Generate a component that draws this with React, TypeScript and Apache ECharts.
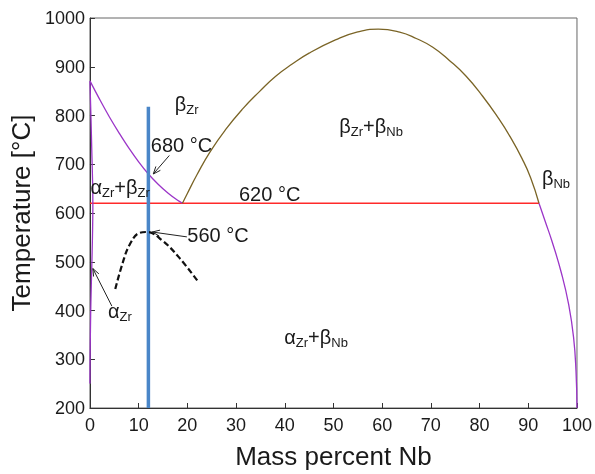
import React, { useEffect, useRef } from "react";
import * as echarts from "echarts";

const FONT = "'Liberation Sans', Arial, Helvetica, sans-serif";

const xTicks = [0, 10, 20, 30, 40, 50, 60, 70, 80, 90, 100];
const yTicks = [200, 300, 400, 500, 600, 700, 800, 900, 1000];

// β-Zr / (α+β) boundary
const betaTransus: number[][] = [
  [0, 871], [2, 833], [4, 797], [6, 764], [8, 733], [10, 705], [12, 680],
  [14, 659], [16, 641], [18, 626], [19, 620],
];
// α-Zr solvus (near x = 0)
const alphaSolvus: number[][] = [
  [0, 870], [0.2, 800], [0.4, 720], [0.55, 660], [0.6, 620], [0.55, 570],
  [0.45, 520], [0.35, 480], [0.2, 420], [0.1, 360], [0.03, 300], [0, 250],
];
// βZr + βNb miscibility gap
const miscibilityGap: number[][] = [
  [19, 620], [20, 640], [22, 679], [24.7, 726], [28, 773], [31.4, 814],
  [34.8, 849], [38.2, 881], [41.6, 906], [45, 928], [50.4, 955], [54.8, 971],
  [59.2, 977], [63.6, 971], [67, 958], [70.4, 940], [73.8, 913], [77.2, 881],
  [80.6, 840], [83.9, 794], [86.3, 756], [88.7, 712], [90.5, 672], [92.2, 620],
];
// β-Nb solvus
const nbSolvus: number[][] = [
  [92.2, 620], [93.5, 582], [94.8, 544], [96.8, 477], [98.3, 412],
  [99.3, 345], [99.8, 275], [100, 200],
];
const eutectoid: number[][] = [[0, 620], [92.2, 620]];
const alloyLine: number[][] = [[12, 200], [12, 818]];
const omegaCurve: number[][] = [
  [5.2, 444], [6.7, 497], [8.1, 534], [10.1, 559], [11.8, 561],
  [14.8, 544], [18.2, 510], [22.3, 458],
];

// labels (rich text) with data position: left edge, vertical middle
const labelTexts = [
  "{m|β}{s|Zr}",
  "{m|680 °C}",
  "{m|620 °C}",
  "{m|560 °C}",
  "{m|α}{s|Zr}",
  "{m|α}{s|Zr}{m|+β}{s|Zr}",
  "{m|β}{s|Zr}{m|+β}{s|Nb}",
  "{m|β}{s|Nb}",
  "{m|α}{s|Zr}{m|+β}{s|Nb}",
];
const labelX = [17.4, 12.5, 30.6, 20.0, 3.7, 0.1, 51.2, 92.8, 39.9];
const labelY = [822, 737, 637, 552, 397, 652, 777, 670, 343];

// arrows: from -> to (data coordinates)
const arrowFrom: number[][] = [[16.3, 718], [19.9, 551], [4.5, 409]];
const arrowTo: number[][] = [[13.0, 680], [12.8, 561], [0.6, 486]];

export default function App() {
  const ref = useRef<HTMLDivElement>(null);
  useEffect(() => {
    const chart = echarts.init(ref.current!, null, { renderer: "svg" });
    const line = (data: number[][], color: string, width: number, z: number, type: any = "solid", smooth: any = 0.4) => ({
      type: "line",
      data,
      symbol: "none",
      showSymbol: false,
      smooth,
      silent: true,
      z,
      lineStyle: { color, width, type },
    });
    chart.setOption({
      animation: false,
      grid: { left: 87, top: 18, right: 16, bottom: 60, show: true, borderColor: "#666", borderWidth: 1 },
      xAxis: {
        type: "value",
        min: xTicks[0],
        max: xTicks[xTicks.length - 1],
        interval: 10,
        name: "Mass percent Nb",
        nameLocation: "middle",
        nameGap: 35,
        nameTextStyle: { fontFamily: FONT, fontSize: 26, color: "#1a1a1a" },
        axisLine: { lineStyle: { color: "#333", width: 1 } },
        axisTick: { inside: true, length: 5, lineStyle: { color: "#333" } },
        axisLabel: { fontFamily: FONT, fontSize: 18, color: "#1a1a1a", margin: 8, formatter: (v: number) => String(v) },
        splitLine: { show: false },
      },
      yAxis: {
        type: "value",
        min: yTicks[0],
        max: yTicks[yTicks.length - 1],
        interval: 100,
        name: "Temperature [°C]",
        nameLocation: "middle",
        nameGap: 51,
        nameTextStyle: { fontFamily: FONT, fontSize: 26, color: "#1a1a1a" },
        axisLine: { lineStyle: { color: "#333", width: 1 } },
        axisTick: { inside: true, length: 5, lineStyle: { color: "#333" } },
        axisLabel: { fontFamily: FONT, fontSize: 18, color: "#1a1a1a", margin: 5, formatter: (v: number) => String(v) },
        splitLine: { show: false },
      },
      series: [
        line(eutectoid, "#ff2a2a", 1.5, 2, "solid", false),
        line(betaTransus, "#9b35c8", 1.3, 3),
        line(alphaSolvus, "#9b35c8", 1.3, 3),
        line(nbSolvus, "#9b35c8", 1.3, 3, "solid", 0.5),
        line(miscibilityGap, "#7a6426", 1.3, 3, "solid", 0.5),
        line(alloyLine, "#4a86c8", 3.5, 4, "solid", false),
        line(omegaCurve, "#111", 2.2, 5, [6, 3]),
      ],
    });

    const toPx = (p: number[]) => chart.convertToPixel({ gridIndex: 0 }, p) as number[];
    const rich = {
      m: { fontFamily: FONT, fontSize: 20, lineHeight: 22, fill: "#1a1a1a", color: "#1a1a1a", verticalAlign: "top" },
      s: { fontFamily: FONT, fontSize: 13, lineHeight: 15, fill: "#1a1a1a", color: "#1a1a1a", verticalAlign: "bottom", padding: [13, 0, 0, 0] },
    };
    const graphics: any[] = [];
    labelTexts.forEach((t, i) => {
      const [px, py] = toPx([labelX[i], labelY[i]]);
      graphics.push({
        type: "text",
        x: px,
        y: py,
        z: 10,
        style: {
          text: t,
          rich,
          fill: "#1a1a1a",
          font: `20px ${FONT}`,
          textAlign: "left",
          align: "left",
          textVerticalAlign: "middle",
          verticalAlign: "middle",
        },
      });
    });
    arrowFrom.forEach((f, i) => {
      const [x1, y1] = toPx(f);
      const [x2, y2] = toPx(arrowTo[i]);
      const ang = Math.atan2(y2 - y1, x2 - x1);
      const L = 8, spread = 0.38;
      const a1 = [x2 - L * Math.cos(ang - spread), y2 - L * Math.sin(ang - spread)];
      const a2 = [x2 - L * Math.cos(ang + spread), y2 - L * Math.sin(ang + spread)];
      graphics.push({
        type: "line",
        z: 10,
        shape: { x1, y1, x2, y2 },
        style: { stroke: "#222", lineWidth: 1 },
      });
      graphics.push({
        type: "polyline",
        z: 10,
        shape: { points: [a1, [x2, y2], a2] },
        style: { stroke: "#222", lineWidth: 1, fill: null },
      });
    });
    chart.setOption({ graphic: graphics });
    return () => chart.dispose();
  }, []);
  return <div ref={ref} style={{ position: "fixed", left: 0, top: 0, width: 595, height: 474 }} />;
}
